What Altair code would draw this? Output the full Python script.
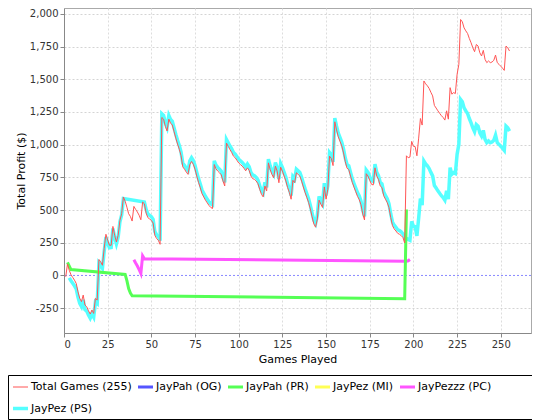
import altair as alt
import pandas as pd

series_names = ["Total Games (255)", "JayPah (OG)", "JayPah (PR)",
                "JayPez (MI)", "JayPezzz (PC)", "JayPez (PS)"]
series_colors = ["#ff5555", "#5555ff", "#55ff55", "#ffff55", "#ff55ff", "#55ffff"]
series_widths = [1, 3, 3, 3, 3, 3.5]

total_games = list(range(1, 256))
total_profit = [
    -10, 88, 40, 5, -15, -36, -61, -125, -175, -200,
    -150, -226, -239, -270, -295, -264, -290, -175, -188, 122,
    104, 78, 206, 315, 269, 231, 231, 375, 307, 256,
    307, 421, 472, 600, 568, 522, 472, 451, 416, 528,
    505, 485, 460, 426, 561, 548, 477, 442, 432, 421,
    401, 307, 282, 269, 238, 1208, 1195, 1140, 1105, 1195,
    1165, 1150, 1100, 1050, 1005, 965, 915, 830, 812, 790,
    773, 848, 872, 850, 812, 760, 712, 672, 625, 600,
    575, 555, 535, 520, 512, 848, 815, 798, 785, 770,
    722, 684, 1012, 987, 962, 940, 912, 900, 880, 860,
    848, 836, 820, 800, 823, 803, 760, 740, 735, 722,
    702, 659, 621, 601, 684, 646, 861, 810, 773, 747,
    836, 798, 709, 828, 798, 760, 722, 672, 634, 583,
    727, 709, 785, 773, 760, 722, 677, 634, 596, 558,
    508, 449, 394, 369, 432, 576, 545, 520, 677, 583,
    659, 912, 895, 840, 1175, 1113, 1060, 1025, 990, 937,
    870, 820, 810, 760, 712, 675, 640, 605, 580, 540,
    470, 424, 778, 760, 727, 697, 692, 823, 760, 735,
    684, 672, 609, 583, 558, 520, 444, 381, 356, 340,
    322, 315, 305, 290, 248, 915, 900, 905, 1025, 988,
    985, 915, 1050, 1200, 1150, 1487, 1465, 1450, 1430, 1400,
    1373, 1300, 1280, 1259, 1240, 1222, 1208, 1188, 1259, 1195,
    1436, 1386, 1398, 1391, 1538, 1614, 1957, 1939, 1893, 1870,
    1850, 1812, 1779, 1741, 1711, 1766, 1754, 1703, 1678, 1721,
    1652, 1627, 1640, 1627, 1632, 1645, 1685, 1627, 1614, 1600,
    1585, 1568, 1754, 1741, 1716,
]

ps_games = list(range(3, 35)) + [46] + list(range(47, 196)) + list(range(197, 256))
ps_profit = [
    -18, -40, -59, -79, -102, -165, -214, -238,
    -187, -261, -273, -303, -327, -295, -319, -203, -215, 96,
    79, 55, 184, 294, 249, 212, 214, 359, 292, 242,
    294, 410, 462, 588,
    562,
    505, 470, 460, 449,
    429, 335, 310, 297, 266, 1236, 1223, 1168, 1133, 1223,
    1193, 1178, 1128, 1078, 1033, 993, 943, 858, 840, 818,
    801, 876, 900, 878, 840, 788, 740, 700, 653, 628,
    603, 583, 563, 548, 540, 876, 843, 826, 813, 798,
    750, 712, 1040, 1015, 990, 968, 940, 928, 908, 888,
    876, 864, 848, 828, 851, 831, 788, 768, 763, 750,
    730, 687, 649, 629, 712, 674, 889, 838, 801, 775,
    864, 826, 737, 856, 826, 788, 750, 700, 662, 611,
    755, 737, 813, 801, 788, 750, 705, 662, 624, 586,
    536, 477, 422, 397, 460, 604, 573, 548, 705, 611,
    687, 940, 923, 868, 1203, 1141, 1088, 1053, 1018, 965,
    898, 848, 838, 788, 740, 703, 668, 633, 608, 568,
    498, 452, 806, 788, 755, 725, 720, 851, 788, 763,
    712, 700, 637, 611, 586, 548, 472, 409, 384, 368,
    350, 343, 333, 318, 290,
    276, 269, 413, 376,
    373, 303, 438, 588, 538, 875, 853, 838, 818, 788,
    761, 688, 668, 647, 628, 610, 596, 576, 647, 583,
    824, 774, 786, 779, 926, 1002, 1345, 1327, 1281, 1258,
    1238, 1200, 1167, 1129, 1099, 1154, 1142, 1091, 1066, 1109,
    1040, 1015, 1028, 1015, 1020, 1033, 1073, 1015, 1002, 988,
    973, 956, 1142, 1129, 1104,
]

pr_games = [2, 4, 35, 36, 37, 38, 39, 195, 196]
pr_profit = [100, 45, 8, -40, -100, -135, -155, -178, 505]

pc_games = [40, 41, 42, 43, 44, 45, 46, 196, 197, 198]
pc_profit = [120, 95, 72, 45, 15, 150, 128, 108, 112, 122]

x_ticks = [0, 25, 50, 75, 100, 125, 150, 175, 200, 225, 250]
y_ticks = [-250, 0, 250, 500, 750, 1000, 1250, 1500, 1750, 2000]

frames = [
    pd.DataFrame({"series": series_names[0], "game": total_games, "profit": total_profit}),
    pd.DataFrame({"series": series_names[5], "game": ps_games, "profit": ps_profit}),
    pd.DataFrame({"series": series_names[2], "game": pr_games, "profit": pr_profit}),
    pd.DataFrame({"series": series_names[4], "game": pc_games, "profit": pc_profit}),
]
df = pd.concat(frames, ignore_index=True)

FONT = "DejaVu Sans"
xscale = alt.Scale(domain=[0, 267.3], nice=False, zero=False)
yscale = alt.Scale(domain=[-440, 2045], nice=False, zero=False)

y_axis = alt.Axis(values=y_ticks, title="Total Profit ($)", labelPadding=2,
                  titlePadding=3, labelOverlap=False, tickCount=10,
                  gridColor={"condition": {"test": "datum.value === 0", "value": "transparent"},
                             "value": "#d4d4d4"},
                  labelExpr="replace(format(datum.value, ','), '\u2212', '-')")
x_axis = alt.Axis(values=x_ticks, title="Games Played", labelPadding=2,
                  titlePadding=4, labelOverlap=False)

legend = alt.Legend(
    title="\u00a0", titleOrient="right", titlePadding=67, titleFontSize=11,
    orient="none", legendX=-56, legendY=367, direction="horizontal", columns=5,
    symbolType="stroke", symbolSize=225,
    labelFont=FONT, labelFontSize=11, labelColor="black", labelOffset=1,
    columnPadding=0, rowPadding=6, padding=3,
    strokeColor="black", fillColor="white",
)

base = alt.Chart(df).encode(
    x=alt.X("game:Q", scale=xscale, axis=x_axis),
    y=alt.Y("profit:Q", scale=yscale, axis=y_axis),
    color=alt.Color("series:N", scale=alt.Scale(domain=series_names, range=series_colors),
                    legend=legend),
    strokeWidth=alt.StrokeWidth("series:N",
                                scale=alt.Scale(type="ordinal", domain=series_names,
                                                range=series_widths),
                                legend=legend),
)

zero_line = alt.Chart(pd.DataFrame({"profit": [0]})).mark_rule(
    color="#6b6bff", strokeDash=[2, 2], strokeWidth=0.8
).encode(y=alt.Y("profit:Q", scale=yscale, axis=y_axis))

ps_line = base.transform_filter(alt.datum.series == series_names[5]).mark_line()
pc_line = base.transform_filter(alt.datum.series == series_names[4]).mark_line()
pr_line = base.transform_filter(alt.datum.series == series_names[2]).mark_line()
tot_line = base.transform_filter(alt.datum.series == series_names[0]).mark_line()

chart = alt.layer(zero_line, ps_line, pc_line, pr_line, tot_line).properties(
    width=467, height=325,
    padding={"left": 56, "top": 0, "right": 1, "bottom": 87},
    autosize=alt.AutoSizeParams(type="none"),
).configure(background="white").configure_view(
    stroke="#aaaaaa", strokeWidth=1, fill="white"
).configure_axis(
    labelFont=FONT, labelFontSize=10, labelColor="#333333",
    titleFont=FONT, titleFontSize=11, titleFontWeight="normal", titleColor="black",
    domainColor="#888888", tickColor="#888888", tickSize=4,
    gridDash=[2, 2], gridWidth=1,
)

chart.save("out.html", embed_options={"renderer": "svg", "actions": False})
